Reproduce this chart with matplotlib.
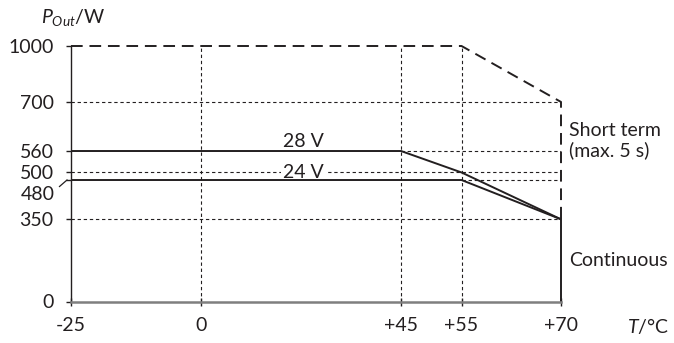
import numpy as np
import matplotlib
matplotlib.use("Agg")
import matplotlib.pyplot as plt

plt.rcParams['font.family'] = ['Lato', 'DejaVu Sans']
plt.rcParams['mathtext.fontset'] = 'custom'
plt.rcParams['mathtext.it'] = 'Lato:italic'
plt.rcParams['mathtext.rm'] = 'Lato'

# temperature ticks and power ticks
t_ticks = [-25, 0, 45, 55, 70]
t_labels = ['-25', '0', '+45', '+55', '+70']
p_ticks = [0, 350, 480, 500, 560, 700, 1000]

# derating curves
t_28v = [-25, 45, 55, 70]
p_28v = [560, 560, 500, 350]
t_24v = [-25, 55, 70]
p_24v = [480, 480, 350]
t_short = [-25, 55, 70, 70]
p_short = [1000, 1000, 700, 350]
t_cont = [70, 70]
p_cont = [350, 0]

# the drawing is not to scale: each tick gets its own spot on the axis
x_pos = [0.0, 0.2653, 0.6735, 0.797, 1.0]
y_pos = [0.0, 0.3217, 0.4755, 0.505, 0.589, 0.781, 1.0]


def piecewise(ticks, pos):
    tk = np.array(ticks, float)
    ps = np.array(pos, float)
    # add far points so the mapping keeps going past the ends
    lo_s = (ps[1] - ps[0]) / (tk[1] - tk[0])
    hi_s = (ps[-1] - ps[-2]) / (tk[-1] - tk[-2])
    tk = np.concatenate([[tk[0] - 1e4], tk, [tk[-1] + 1e4]])
    ps = np.concatenate([[ps[0] - 1e4 * lo_s], ps, [ps[-1] + 1e4 * hi_s]])
    fwd = lambda v: np.interp(v, tk, ps)
    inv = lambda v: np.interp(v, ps, tk)
    return fwd, inv


ink = '#231f20'
fs = 14
grid_kw = dict(color=ink, lw=0.8, ls=(0, (3, 2.5)), zorder=1)

fig = plt.figure(figsize=(6.74, 3.43), dpi=100)
ax = fig.add_axes([71 / 674, 1 - 301.5 / 343, 490 / 674, 255.5 / 343])
ax.set_xscale('function', functions=piecewise(t_ticks, x_pos))
ax.set_yscale('function', functions=piecewise(p_ticks, y_pos))
ax.set_xlim(-25, 70)
ax.set_ylim(0, 1000)

# grid
for t in [0, 45, 55]:
    ax.plot([t, t], [0, 1000], **grid_kw)
for p in [350, 500, 700]:
    ax.plot([-25, 70], [p, p], **grid_kw)
ax.plot([45, 70], [560, 560], **grid_kw)
ax.plot([55, 70], [480, 480], **grid_kw)

# curves
ax.plot(t_28v, p_28v, color=ink, lw=1.4, zorder=3, solid_joinstyle='miter')
ax.plot(t_24v, p_24v, color=ink, lw=1.4, zorder=3, solid_joinstyle='miter')
ax.plot(t_short, p_short, color=ink, lw=1.4, ls=(0, (6, 3.5)), zorder=3, clip_on=False)
ax.plot(t_cont, p_cont, color=ink, lw=1.4, zorder=3, clip_on=False)

ax.text(23, 563, '28 V', ha='center', va='bottom', fontsize=fs, color=ink)
ax.text(23, 500, '24 V', ha='center', va='center', fontsize=fs, color=ink,
        bbox=dict(facecolor='white', edgecolor='none', pad=1.5), zorder=2)
ax.text(71.2, 589, 'Short term\n(max. 5 s)', ha='left', va='center', fontsize=fs,
        color=ink, linespacing=1.15)
ax.text(71.2, 175, 'Continuous', ha='left', va='center', fontsize=fs, color=ink)

# axes
for s in ['top', 'right']:
    ax.spines[s].set_visible(False)
ax.spines['left'].set_color(ink)
ax.spines['left'].set_linewidth(1.0)
ax.spines['bottom'].set_color('#7f7f7f')
ax.spines['bottom'].set_linewidth(1.8)
ax.spines['left'].set_zorder(4)
ax.spines['bottom'].set_zorder(5)

ax.set_xticks(t_ticks, t_labels)
ax.set_yticks(p_ticks, [str(p) if p != 480 else '' for p in p_ticks])
ax.tick_params(axis='x', direction='inout', length=6, width=1, color=ink,
               labelsize=fs, labelcolor=ink, pad=8)
ax.tick_params(axis='y', direction='out', length=3.5, width=1, color=ink,
               labelsize=fs, labelcolor=ink, pad=9)

# 480 label sits lower, with a little leader line
ax.annotate('480', xy=(0, 480), xycoords=('axes fraction', 'data'),
            xytext=(-16.5, -14), textcoords='offset pixels', ha='right', va='center',
            fontsize=fs, color=ink, annotation_clip=False)
fig.lines.append(plt.Line2D([59.5 / 674, 67 / 674], [1 - 186.5 / 343, 1 - 180 / 343],
                            transform=fig.transFigure, color=ink, lw=0.9))

fig.text(41 / 674, 1 - 18 / 343, r'$P_{Out}$/W', ha='left', va='center',
         fontsize=fs, color=ink)
fig.text(648 / 674, 1 - 326 / 343, r'$T$/°C', ha='center', va='center',
         fontsize=fs, color=ink)

fig.savefig('out.png', dpi=100)
